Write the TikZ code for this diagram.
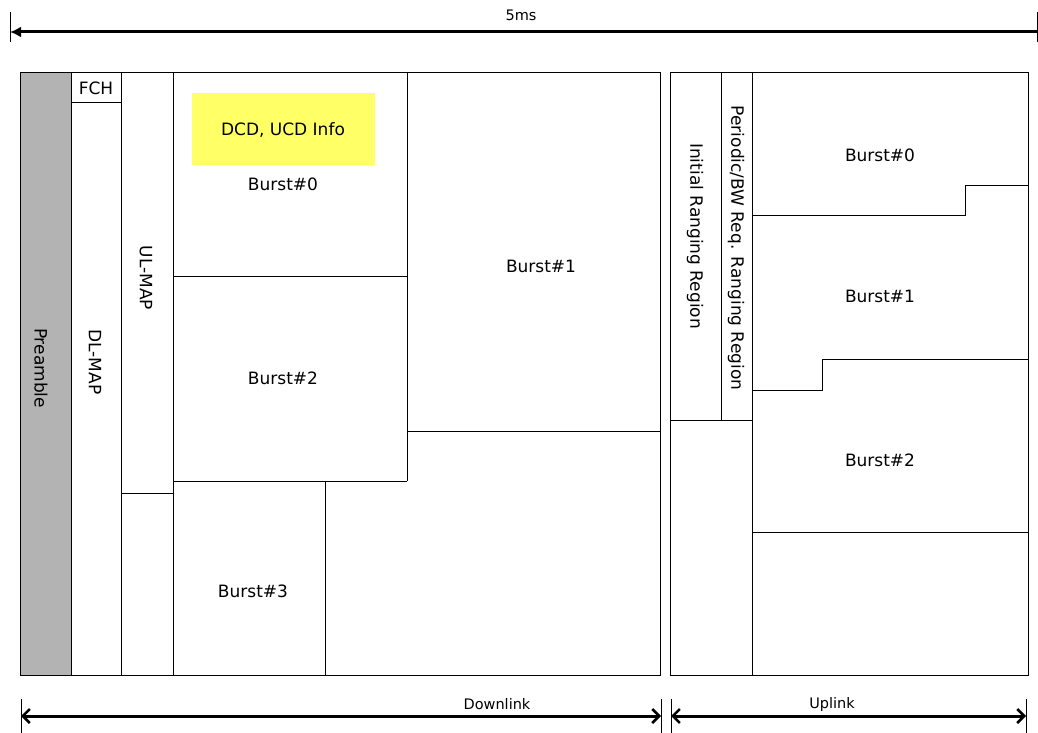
\documentclass[tikz,border=0pt]{standalone}
\usepackage{fontspec}
\setmainfont{DejaVu Sans}
\usetikzlibrary{positioning,arrows.meta}
\definecolor{PreGray}{HTML}{B3B3B3}
\definecolor{InfoYellow}{HTML}{FFFF66}
\tikzset{
  cell/.style={draw=black, line width=1pt},
  lbl/.style={inner sep=0pt, font=\fontsize{17}{20}\selectfont},
  vlbl/.style={lbl, rotate=-90},
  span/.style={inner sep=0pt, font=\fontsize{14.5}{17}\selectfont},
  tick/.style={line width=1pt},
  widthbar/.style={-{Latex[length=11pt,width=11pt]}, {Latex[length=11pt,width=11pt]}-, line width=3pt},
  partbar/.style={{Straight Barb[length=7pt,width=14pt,line width=2.5pt]}-{Straight Barb[length=7pt,width=14pt,line width=2.5pt]}, line width=3pt},
}
\begin{document}
\begin{tikzpicture}[x=1pt, y=-1pt]
  \useasboundingbox (0,0) rectangle (1038,733);
  % downlink subframe
  \fill[PreGray] (20,73) rectangle (71,675);
  \fill[InfoYellow] (192,93) rectangle (375,165);
  \draw[cell] (20,73) rectangle (660,675);
  \draw[cell] (71,73) -- (71,675);
  \draw[cell] (121,73) -- (121,675);
  \draw[cell] (71,103) -- (121,103);
  \draw[cell] (173,73) -- (173,675);
  \draw[cell] (121,493) -- (173,493);
  \draw[cell] (407,73) -- (407,481);
  \draw[cell] (173,276) -- (407,276);
  \draw[cell] (173,481) -- (407,481);
  \draw[cell] (407,431) -- (660,431);
  \draw[cell] (325,481) -- (325,675);
  \node[vlbl] (preamble) at (41,368) {Preamble};
  \node[lbl] (fch) at (96,88) {FCH};
  \node[vlbl] (dlmap) at (95,362) {DL-MAP};
  \node[vlbl] (ulmap) at (146,278) {UL-MAP};
  \node[lbl] (dcd) at (283,130) {DCD, UCD Info};
  \node[lbl] (dlb0) at (283,184) {Burst\#0};
  \node[lbl] (dlb1) at (541,266) {Burst\#1};
  \node[lbl] (dlb2) at (283,378) {Burst\#2};
  \node[lbl] (dlb3) at (253,591) {Burst\#3};
  % uplink subframe
  \draw[cell] (670,73) rectangle (1028,675);
  \draw[cell] (721,73) -- (721,420);
  \draw[cell] (752,73) -- (752,675);
  \draw[cell] (670,420) -- (752,420);
  \draw[cell] (752,215) -- (965,215) -- (965,185) -- (1028,185);
  \draw[cell] (752,390) -- (822,390) -- (822,359) -- (1028,359);
  \draw[cell] (752,532) -- (1028,532);
  \node[vlbl] (initrng) at (695,236) {Initial Ranging Region};
  \node[vlbl] (perrng) at (736,248) {Periodic/BW Req. Ranging Region};
  \node[lbl] (ulb0) at (880,155) {Burst\#0};
  \node[lbl] (ulb1) at (880,296) {Burst\#1};
  \node[lbl] (ulb2) at (880,460) {Burst\#2};
  % spans
  \coordinate (frameL) at (10,32);
  \coordinate (frameR) at (1037,32);
  \coordinate (dlL) at (21,716);
  \coordinate (dlR) at (661,716);
  \coordinate (ulL) at (671,716);
  \coordinate (ulR) at (1026,716);
  \draw[tick] ([yshift=-10pt]frameL) -- ([yshift=20pt]frameL);
  \draw[tick] ([yshift=-10pt]frameR) -- ([yshift=20pt]frameR);
  \foreach \c in {dlL,dlR,ulL,ulR}
    \draw[tick] ([yshift=-21pt]\c) -- ([yshift=17pt]\c);
  \draw[widthbar] (frameL) -- (frameR);
  \draw[partbar] (dlL) -- (dlR);
  \draw[partbar] (ulL) -- (ulR);
  \node[span] (frame) at (521,15) {5ms};
  \node[span] (dl) at (497,704) {Downlink};
  \node[span] (ul) at (832,704) {Uplink};
\end{tikzpicture}
\end{document}
